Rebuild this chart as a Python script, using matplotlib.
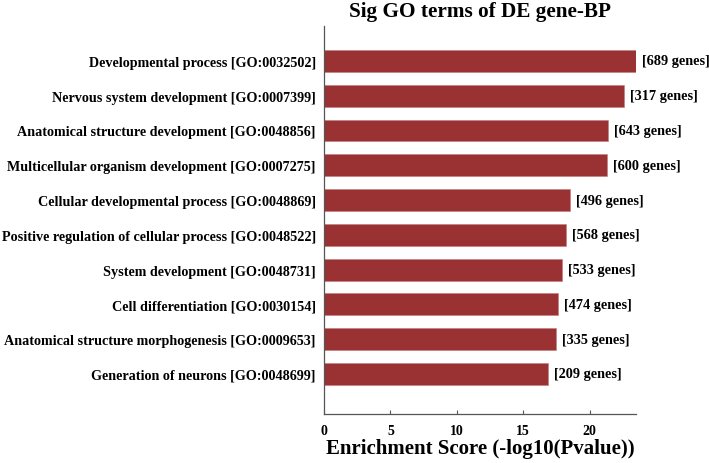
import matplotlib
matplotlib.use("Agg")
import matplotlib.pyplot as plt

terms = [
    "Developmental process [GO:0032502]",
    "Nervous system development [GO:0007399]",
    "Anatomical structure development [GO:0048856]",
    "Multicellular organism development [GO:0007275]",
    "Cellular developmental process [GO:0048869]",
    "Positive regulation of cellular process [GO:0048522]",
    "System development [GO:0048731]",
    "Cell differentiation [GO:0030154]",
    "Anatomical structure morphogenesis [GO:0009653]",
    "Generation of neurons [GO:0048699]",
]
scores = [23.5, 22.6, 21.4, 21.3, 18.5, 18.2, 17.9, 17.6, 17.5, 16.9]
gene_counts = [689, 317, 643, 600, 496, 568, 533, 474, 335, 209]
xticks = [0, 5, 10, 15, 20]

plt.rcParams["font.family"] = ["Liberation Serif", "DejaVu Serif"]
plt.rcParams["font.weight"] = "bold"

fig = plt.figure(figsize=(7.09, 4.64), dpi=100)
ax = fig.add_axes([0.457, 0.1056, 0.44, 0.836])

ypos = list(range(len(terms)))
ax.barh(ypos, scores, height=0.63, color="#9a3234", edgecolor="#c07a7a", linewidth=0.4)

for y, s, n in zip(ypos, scores, gene_counts):
    ax.annotate(f"[{n} genes]", (s, y), xytext=(4.3, 0), textcoords="offset points",
                va="center", ha="left", fontsize=10.3, fontweight="bold")

ax.set_yticks(ypos)
ax.set_yticklabels(terms, fontsize=10.2, fontweight="bold")
ax.set_ylim(len(terms) - 1 + 1.15, -1.0)
ax.set_xlim(0, 23.5)
ax.set_xticks(xticks)
ax.set_xticklabels([str(t) for t in xticks], fontsize=10, fontweight="bold")
ax.tick_params(axis="y", length=0, pad=6)
ax.tick_params(axis="x", direction="in", length=3, pad=7, color="#555555")

for side in ["top", "right"]:
    ax.spines[side].set_visible(False)
for side in ["left", "bottom"]:
    ax.spines[side].set_color("#555555")
    ax.spines[side].set_linewidth(0.9)

ax.set_title("Sig GO terms of DE gene-BP", fontsize=15.3, fontweight="bold", pad=7)
ax.set_xlabel("Enrichment Score (-log10(Pvalue))", fontsize=15, fontweight="bold", labelpad=1)

fig.savefig("out.png", dpi=100)
